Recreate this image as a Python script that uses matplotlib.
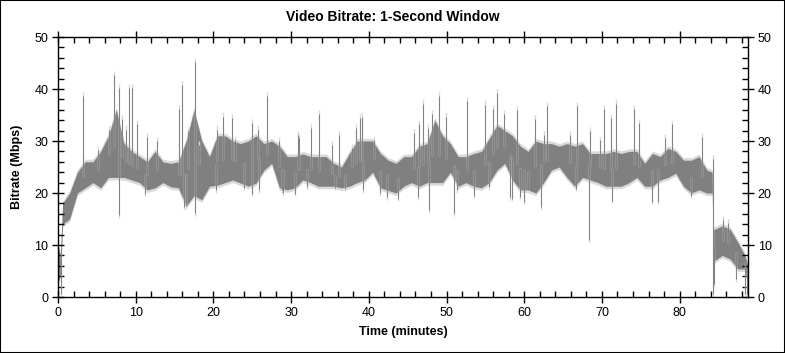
import numpy as np
import matplotlib
matplotlib.use("Agg")
import matplotlib.pyplot as plt
from matplotlib.patches import Rectangle
from matplotlib.ticker import MultipleLocator

plt.rcParams["font.family"] = ["Liberation Sans", "DejaVu Sans"]

# band of the trace, read per minute from the picture (minutes, Mbps)
band_t = [0.0, 0.3, 0.6, 1.5, 2.5, 3.5, 4.5, 5.5, 6.5, 7.5, 8.5, 9.5, 10.5, 11.5,
          12.5, 13.5, 14.5, 15.5, 16.5, 17.5, 18.5, 19.5, 20.5, 21.5, 22.5, 23.5,
          24.5, 25.5, 26.5, 27.5, 28.5, 29.5, 30.5, 31.5, 32.5, 33.5, 34.5, 35.5,
          36.5, 37.5, 38.5, 39.5, 40.5, 41.5, 42.5, 43.5, 44.5, 45.5, 46.5, 47.5,
          48.5, 49.5, 50.5, 51.5, 52.5, 53.5, 54.5, 55.5, 56.5, 57.5, 58.5, 59.5,
          60.5, 61.5, 62.5, 63.5, 64.5, 65.5, 66.5, 67.5, 68.5, 69.5, 70.5, 71.5,
          72.5, 73.5, 74.5, 75.5, 76.5, 77.5, 78.5, 79.5, 80.5, 81.5, 82.5, 83.5,
          84.2, 84.35, 84.5, 85.5, 86.5, 87.5, 88.4, 88.8]
band_hi = [10, 8, 18, 20, 24, 26, 26, 28, 31, 36, 29.5, 28, 27, 26,
           28, 26, 25.7, 26, 30, 36, 30, 27, 31, 31, 30, 29.5,
           30, 31, 29.5, 30, 29, 27, 27, 27.5, 27, 27, 27, 25.7,
           25, 27.6, 30, 30, 30, 27.6, 26.3, 25.7, 27, 27, 29, 29.5,
           34, 31, 29.5, 27, 27, 27.6, 28, 30.5, 33, 32, 31, 29,
           28, 30, 29.5, 29.5, 29, 29.5, 29, 29.5, 27.6, 27.6, 27.6, 28,
           27.6, 28, 28, 25.7, 27.6, 27, 28.6, 28, 26.3, 26.3, 27, 24.4,
           24, 13, 13, 13.7, 13, 10.5, 8, 6]
band_lo = [3, 4, 14, 15, 20, 21, 22, 21, 23, 23, 23, 22.5, 22, 20.6,
           21, 22, 21.2, 21, 17.5, 19.5, 18.7, 21.3, 21.5, 22, 22.5, 21.9,
           21.3, 21.9, 24.4, 25.7, 21, 20.6, 21, 22.5, 22, 21.3, 21.3, 21.3,
           21, 21.3, 22, 22.5, 24, 21, 20.5, 20, 21.3, 22, 21.3, 22,
           22, 22, 24, 21.3, 22, 21.3, 21, 22, 24.4, 25.7, 22.5, 20.6,
           20.6, 20, 22, 24.4, 25, 23, 21.3, 23, 22.5, 22, 21.3, 21.3,
           21.3, 22, 23, 21.3, 21.3, 22.5, 23, 23.8, 21.3, 20, 20.6, 20,
           20, 6.7, 7, 8, 7.3, 5.4, 5.4, 2]

# single-second peaks above the band
peak_t = [3.27, 5.2, 6.6, 7.27, 7.85, 8.3, 8.8, 9.1, 9.5, 10.2, 11.4, 12.8,
          15.6, 15.9, 16.7, 17.6, 18.2, 20.5, 21.2, 22.4, 22.8, 25.0, 25.8, 26.9,
          28.5, 30.9, 31.0, 32.6, 33.6, 35.2, 36.2, 37.9, 38.4, 38.9, 39.1, 40.7,
          45.8, 46.4, 47.0, 47.6, 48.1, 49.0, 49.9, 52.7, 55.0, 56.0, 56.5, 57.4,
          59.1, 61.4, 62.6, 62.9, 65.9, 66.8, 68.5, 69.7, 70.3, 71.2, 71.8, 74.1,
          74.75, 78.1, 79.0, 82.9, 84.3, 85.6, 86.2]
peak_v = [39.5, 29, 33, 43.5, 41, 35, 33, 41, 41, 34, 31.5, 30.8,
          37, 41.6, 32.7, 46, 30, 33, 35.5, 35.2, 31, 34.3, 33, 39.5,
          30.8, 32, 31.4, 33.3, 35.9, 30, 32, 29.5, 33.3, 35.2, 35.5, 31,
          32.4, 34, 38, 33.3, 36, 39.4, 35.5, 38.4, 37.8, 37, 40, 36,
          36.8, 35, 32, 37.5, 32, 37.5, 32.7, 31, 37, 35.2, 38, 37,
          34.3, 31.4, 34, 31.6, 27.3, 15.6, 15]

# single-second dips below the band
dip_t = [0.4, 7.8, 11.2, 16.2, 16.5, 17.6, 20.3, 23.9, 25.0, 25.9, 28.8, 29.0,
         30.5, 32.1, 35.6, 36.9, 39.3, 41.5, 42.3, 43.7, 46.3, 47.8, 51.0, 51.3,
         53.5, 55.5, 58.2, 58.4, 59.5, 60.0, 60.5, 62.2, 66.6, 68.3, 71.3, 76.4,
         77.2, 81.5, 84.3, 84.4, 87.2, 88.4, 88.7]
dip_v = [0, 15.2, 19.4, 16.8, 17, 15.6, 20, 20.5, 19.4, 20, 20, 19.5,
         19.4, 20.6, 20.5, 20.3, 20, 19.5, 18.7, 18.4, 18.7, 16.2, 15.6, 20,
         19, 20.6, 18.7, 18.4, 18.7, 17.8, 20, 16.8, 20.3, 10.5, 18, 17.8,
         17.8, 19, 0, 2, 2.9, 0, 0]

dark = "#808080"
light = "#d9d9d9"

fig = plt.figure(figsize=(7.85, 3.53), dpi=100)
ax = fig.add_axes([58 / 785, 56 / 353, 690 / 785, 260 / 353])

band_t = np.array(band_t)
band_hi = np.array(band_hi)
band_lo = np.array(band_lo)
mid = np.interp(peak_t, band_t, (band_hi + band_lo) / 2)
mid_d = np.interp(dip_t, band_t, (band_hi + band_lo) / 2)

# light fringe, then the dark trace
ax.fill_between(band_t, band_lo - 0.5, band_hi + 0.5, color=light, lw=0)
ax.vlines(peak_t, mid, np.array(peak_v), color=light, lw=1.0)
ax.vlines(dip_t, mid_d, np.array(dip_v), color=light, lw=1.0)
ax.fill_between(band_t, band_lo, band_hi, color=dark, lw=0)
ax.vlines(peak_t, mid, np.array(peak_v) - 0.8, color=dark, lw=0.7)
ax.vlines(dip_t, mid_d, np.array(dip_v) + 0.5, color=dark, lw=0.7)

ax.set_xlim(0, 88.8)
ax.set_ylim(0, 50)
ax.xaxis.set_major_locator(MultipleLocator(10))
ax.xaxis.set_minor_locator(MultipleLocator(2))
ax.yaxis.set_major_locator(MultipleLocator(10))
ax.yaxis.set_minor_locator(MultipleLocator(2))
ax.tick_params(which="both", top=True, right=True, labelright=True,
               labelsize=9, colors="black", width=1)
ax.tick_params(which="major", direction="inout", length=8, pad=3)
ax.tick_params(which="minor", direction="in", length=4)
for s in ax.spines.values():
    s.set_linewidth(1)

ax.set_xlabel("Time (minutes)", fontsize=9, fontweight="bold", labelpad=5)
ax.set_ylabel("Bitrate (Mbps)", fontsize=9, fontweight="bold", labelpad=8)
fig.text(0.5, 1 - 17 / 353, "Video Bitrate: 1-Second Window", ha="center",
         va="center", fontsize=10, fontweight="bold")

fig.patches.append(Rectangle((0, 0), 1, 1, transform=fig.transFigure,
                             fill=False, edgecolor="black", lw=1.5))

fig.savefig("out.png", dpi=100)
